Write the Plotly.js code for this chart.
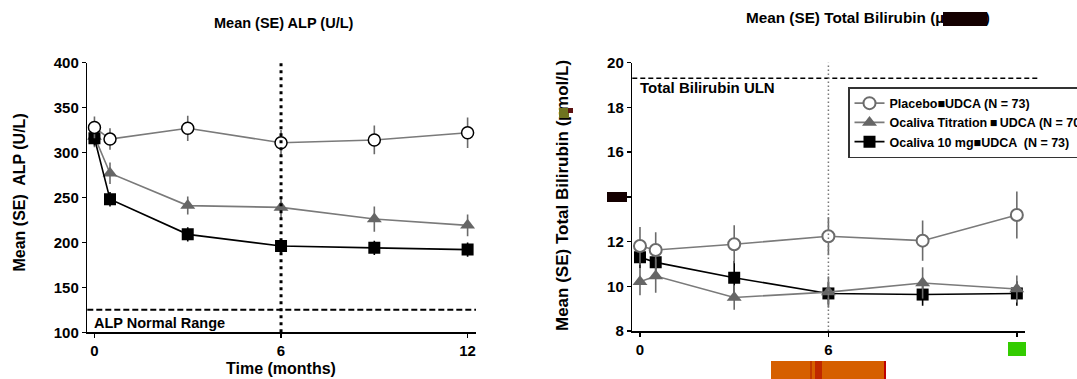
<!DOCTYPE html>
<html>
<head>
<meta charset="utf-8">
<script src="https://cdn.plot.ly/plotly-3.0.1.min.js"></script>
<style>html,body{margin:0;padding:0;background:#fff;overflow:hidden;width:1077px;height:379px;}#chart{width:1077px;height:379px;display:block;overflow:hidden;}</style>
</head>
<body>
<div id="chart"></div>
<script>
// ---------- data ----------
const months = [0, 0.5, 3, 6, 9, 12];
const xTickVals = [0, 6, 12];

const alpPlacebo = [328, 315, 327, 311, 314, 322];
const alpPlaceboSE = [12, 12, 14, 14, 16, 17];
const alpTitration = [318, 277, 241, 239, 226, 219];
const alpTitrationSE = [12, 12, 10, 12, 14, 12];
const alpOca10 = [316, 248, 209, 196, 194, 192];
const alpOca10SE = [8, 8, 8, 8, 8, 8];
const alpTickVals = [100, 150, 200, 250, 300, 350, 400];
const alpNormalLimit = 125;

const bilPlacebo = [11.8, 11.62, 11.88, 12.24, 12.04, 13.19];
const bilPlaceboSE = [0.85, 0.8, 0.85, 0.85, 0.9, 1.05];
const bilTitration = [10.2, 10.46, 9.5, 9.74, 10.15, 9.88];
const bilTitrationSE = [0.6, 0.75, 0.55, 0.7, 0.7, 0.6];
const bilOca10 = [11.3, 11.07, 10.38, 9.68, 9.63, 9.68];
const bilOca10SE = [0.5, 0.4, 0.75, 0.5, 0.5, 0.55];
const bilTickVals = [8, 10, 12, 14, 16, 18, 20];
const bilULN = 19.3;

const legendNames = ['Placebo\u25A0UDCA (N = 73)', 'Ocaliva Titration\u2009\u25A0\u2009UDCA (N = 70)', 'Ocaliva 10 mg\u25A0UDCA  (N = 73)'];

// ---------- helpers ----------
const W = 1077, H = 379;
const px = v => v / W;
const py = v => 1 - v / H;
const FONT = 'Liberation Sans, Arial, sans-serif';
const GRAY = '#6b6b6b';

function err(arr, color) {
  return {type: 'data', array: arr, visible: true, width: 0, thickness: 1.6, color: color};
}

const traces = [
  // left panel
  {x: months, y: alpTitration, error_y: err(alpTitrationSE, GRAY), xaxis: 'x', yaxis: 'y', mode: 'lines+markers',
   line: {color: '#7a7a7a', width: 1.6}, marker: {symbol: 'triangle-up', size: 13, color: '#666666'}, showlegend: false},
  {x: months, y: alpOca10, error_y: err(alpOca10SE, '#000'), xaxis: 'x', yaxis: 'y', mode: 'lines+markers',
   line: {color: '#000', width: 1.6}, marker: {symbol: 'square', size: 12, color: '#000'}, showlegend: false},
  {x: months, y: alpPlacebo, error_y: err(alpPlaceboSE, GRAY), xaxis: 'x', yaxis: 'y', mode: 'lines+markers',
   line: {color: '#7a7a7a', width: 1.6}, marker: {symbol: 'circle', size: 12, color: '#fff', line: {color: '#000', width: 1.5}}, showlegend: false},
  // right panel
  {x: months, y: bilOca10, error_y: err(bilOca10SE, '#000'), xaxis: 'x2', yaxis: 'y2', mode: 'lines+markers', name: legendNames[2], legendrank: 3,
   line: {color: '#000', width: 1.6}, marker: {symbol: 'square', size: 12, color: '#000'}},
  {x: months, y: bilTitration, error_y: err(bilTitrationSE, GRAY), xaxis: 'x2', yaxis: 'y2', mode: 'lines+markers', name: legendNames[1], legendrank: 2,
   line: {color: '#7a7a7a', width: 1.6}, marker: {symbol: 'triangle-up', size: 13, color: '#666666'}},
  {x: months, y: bilPlacebo, error_y: err(bilPlaceboSE, GRAY), xaxis: 'x2', yaxis: 'y2', mode: 'lines+markers', name: legendNames[0], legendrank: 1,
   line: {color: '#7a7a7a', width: 1.6}, marker: {symbol: 'circle', size: 12, color: '#fff', line: {color: GRAY, width: 2}}}
];

const axisCommon = {
  showline: true, linecolor: '#000', linewidth: 1.5, showgrid: false, zeroline: false,
  ticks: 'outside', ticklen: 4, tickwidth: 1.5, tickcolor: '#000',
  tickfont: {family: FONT, size: 15, color: '#000', weight: 'bold'}, fixedrange: true
};

function ann(text, x, y, size, opts) {
  return Object.assign({text: text, x: px(x), y: py(y), xref: 'paper', yref: 'paper', showarrow: false,
    font: {family: FONT, size: size, color: '#000', weight: 'bold'}}, opts || {});
}
function block(x0, x1, y0, y1, color) {
  return {text: '\u00a0', x: px(x0), y: py(y0), xref: 'paper', yref: 'paper', xanchor: 'left', yanchor: 'top',
    width: x1 - x0, height: y1 - y0, bgcolor: color, borderpad: 0, borderwidth: 0, showarrow: false,
    font: {size: 1, color: color}};
}

const layout = {
  width: W, height: H, margin: {l: 0, r: 0, t: 0, b: 0, pad: 0, autoexpand: false},
  paper_bgcolor: '#fff', plot_bgcolor: 'rgba(0,0,0,0)',
  font: {family: FONT, color: '#000'},
  xaxis: Object.assign({}, axisCommon, {domain: [px(87.3), px(476)], range: [-0.23, 12.27], tickvals: xTickVals, anchor: 'y'}),
  yaxis: Object.assign({}, axisCommon, {domain: [py(332.3), py(62.7)], range: [100, 400], tickvals: alpTickVals, anchor: 'x'}),
  xaxis2: Object.assign({}, axisCommon, {domain: [px(632.3), px(1025)], range: [-0.245, 12.26], tickvals: xTickVals, anchor: 'y2'}),
  yaxis2: Object.assign({}, axisCommon, {domain: [py(331), py(62.7)], range: [8, 20], tickvals: bilTickVals, anchor: 'x2'}),
  showlegend: true,
  legend: {x: px(848), y: py(87), xanchor: 'left', yanchor: 'top', bgcolor: '#fff', bordercolor: '#333', borderwidth: 1.5,
    font: {family: FONT, size: 12.5, color: '#000', weight: 'bold'}, traceorder: 'normal', itemwidth: 30},
  shapes: [
    {type: 'line', xref: 'x domain', yref: 'y', x0: 0, x1: 1, y0: alpNormalLimit, y1: alpNormalLimit, line: {color: '#000', width: 2, dash: '6px,3px'}},
    {type: 'line', xref: 'x', yref: 'y domain', x0: 6, x1: 6, y0: 0, y1: 1, layer: 'above', line: {color: '#000', width: 3, dash: '3px,4px'}},
    {type: 'line', xref: 'x2 domain', yref: 'y2', x0: 0, x1: 1.038, y0: bilULN, y1: bilULN, line: {color: '#000', width: 1.5, dash: '5px,3px'}},
    {type: 'line', xref: 'x2', yref: 'y2 domain', x0: 6, x1: 6, y0: 0, y1: 1, layer: 'above', line: {color: '#777', width: 1.5, dash: '1.5px,2.5px'}}
  ],
  annotations: [
    ann('Mean (SE) ALP (U/L)', 284, 22.7, 14.5, {xanchor: 'center', yanchor: 'middle'}),
    ann('Mean (SE) Total Bilirubin (\u00b5mol/L)', 744, 17.5, 15.3, {xanchor: 'left', yanchor: 'middle'}),
    ann('Mean (SE)\u00a0 ALP (U/L)', 18.5, 193, 16, {xanchor: 'center', yanchor: 'middle', textangle: -90}),
    ann('Mean (SE) Total Bilirubin (\u00b5mol/L)', 562, 196, 17, {xanchor: 'center', yanchor: 'middle', textangle: -90}),
    ann('Time (months)', 281, 368, 16, {xanchor: 'center', yanchor: 'middle'}),
    ann('Time (months)', 828, 370, 16, {xanchor: 'center', yanchor: 'middle'}),
    ann('ALP Normal Range', 91.5, 323, 14.5, {xanchor: 'left', yanchor: 'middle'}),
    ann('Total Bilirubin ULN', 638, 87.3, 15, {xanchor: 'left', yanchor: 'middle'}),
    // redaction blocks present in the reference image
    block(943, 987, 11.7, 25.7, '#140000'),
    block(607, 627, 192.3, 202.5, '#140000'),
    block(559, 569, 108, 118, '#6e7420'),
    block(568, 573, 108, 113, '#5a1212'),
    block(1008, 1026, 342, 356, '#33cc00'),
    block(771, 886, 361, 379, '#d65f00'),
    block(810, 812, 361, 379, '#c23a00'),
    block(815, 822, 361, 379, '#c02800'),
    block(884, 886, 361, 379, '#c00000')
  ]
};

Plotly.newPlot('chart', traces, layout, {displayModeBar: false, staticPlot: true});
</script>
</body>
</html>
